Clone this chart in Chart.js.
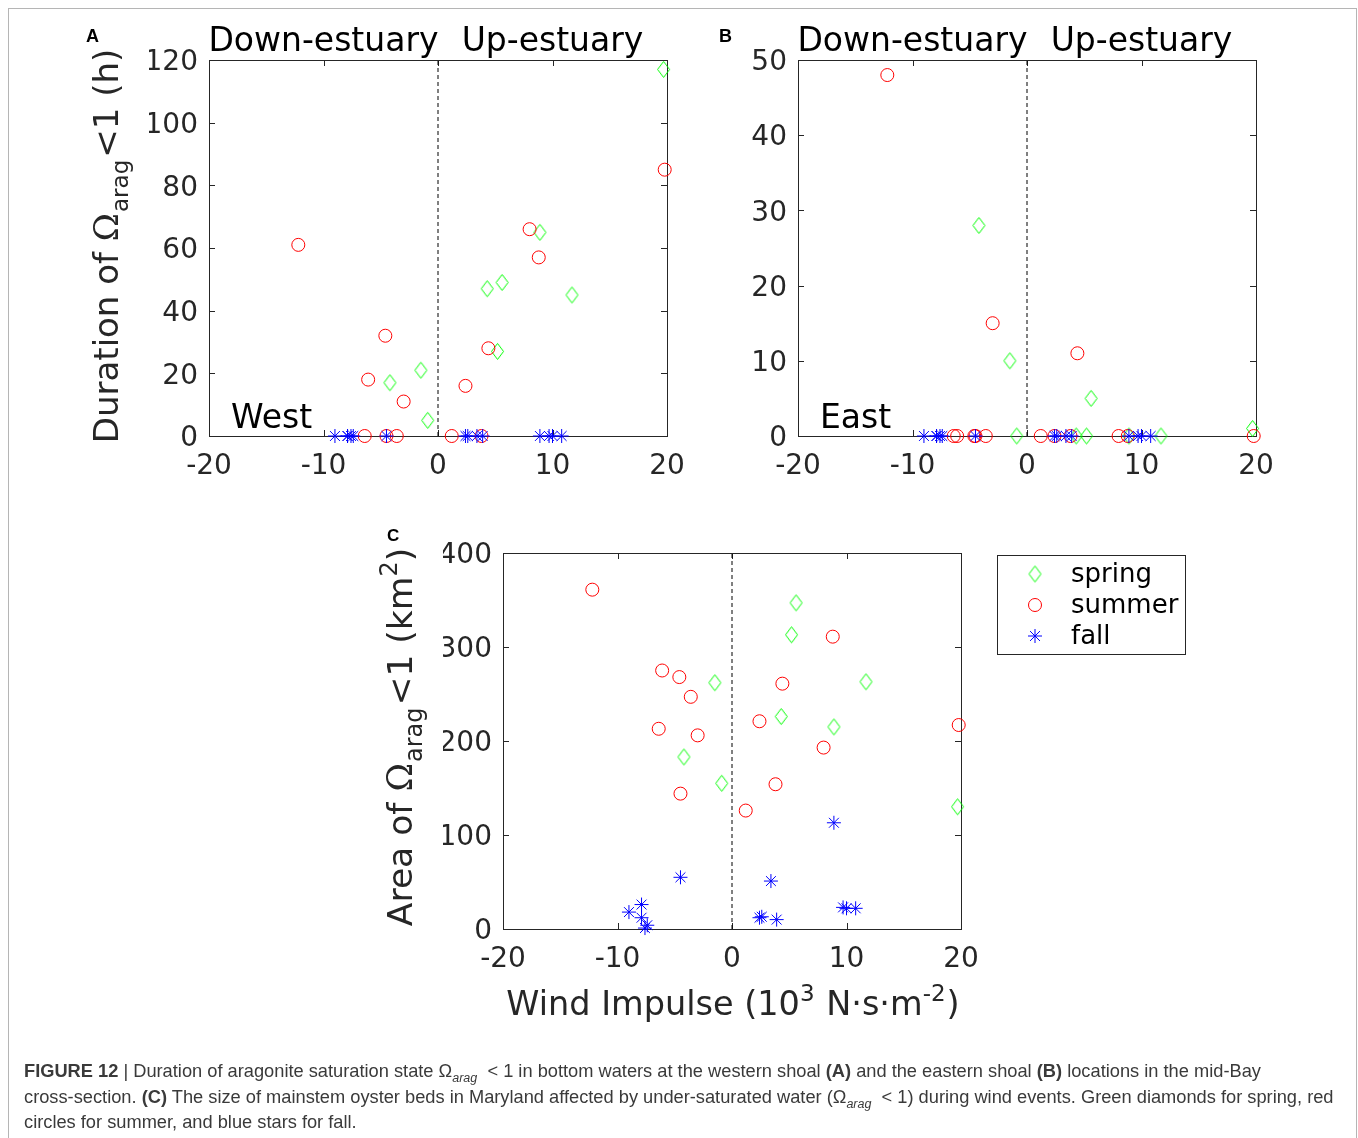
<!DOCTYPE html>
<html>
<head>
    <meta http-equiv="Content-Type" content="text/html; charset=utf-8">
    <title>Figure 12 - aragonite saturation and wind impulse</title>
    <script src="https://cdn.jsdelivr.net/npm/chart.js@4.4.1/dist/chart.umd.min.js"></script>
    <style>
        body { margin:0; background:#fff; }
        #page { position:relative; width:1358px; height:1138px; overflow:hidden; }
        #frame { position:absolute; left:8px; top:8px; width:1347px; height:1160px; border:1px solid #b5b5b5; }
        .cv { position:absolute; left:0; top:0; }
        #cap { position:absolute; left:24px; top:1058px; font-size:18.25px; font-family:'Liberation Sans',sans-serif;
               color:#3a3a3a; line-height:25.5px; white-space:nowrap; }
        #cap sub { font-size:12.5px; line-height:0; }
    </style>
</head>
<body>
<div id="page">
    <div id="frame"></div>
    <canvas id="chartA" class="cv" width="1358" height="1138"></canvas>
    <canvas id="chartB" class="cv" width="1358" height="1138"></canvas>
    <canvas id="chartC" class="cv" width="1358" height="1138"></canvas>
    <div id="cap">
        <b>FIGURE 12</b> | Duration of aragonite saturation state Ω<sub><i>arag</i></sub> &nbsp;&lt; 1 in bottom waters at the western shoal <b>(A)</b> and the eastern shoal <b>(B)</b> locations in the mid-Bay<br>
        cross-section. <b>(C)</b> The size of mainstem oyster beds in Maryland affected by under-saturated water (Ω<sub><i>arag</i></sub> &nbsp;&lt; 1) during wind events. Green diamonds for spring, red<br>
        circles for summer, and blue stars for fall.
    </div>
</div>

<script>
    // wind impulse (10^3 N s m-2) of each event, per season
    var springX = [5.6, 5.2, -1.5, 11.7, 4.3, 8.9, -4.2, -0.9, 19.7];
    var summerX = [-12.2, -6.1, -4.6, -3.6, -6.4, -3.0, -4.5, 1.2, 2.4, 4.4, 3.8, 8.0, 8.8, 19.8];
    var fallX   = [8.9, -4.5, 3.4, -7.9, -9.0, -7.9, -7.4, -7.6, 2.4, 2.6, 3.9, 9.7, 10.0, 10.8];

    // duration (h) of omega_arag < 1, west shoal (A)
    var springWest = [49, 27, 21, 45, 47, 65, 17, 5, 117];
    var summerWest = [61, 18, 32, 0, 0, 11, 0, 0, 16, 28, 0, 66, 57, 85];
    var fallWest   = [0, 0, 0, 0, 0, 0, 0, 0, 0, 0, 0, 0, 0, 0];

    // duration (h), east shoal (B)
    var springEast = [5, 0, 10, 0, 0, 0, 28, 0, 1];
    var summerEast = [48, 0, 0, 0, 0, 15, 0, 0, 0, 11, 0, 0, 0, 0];
    var fallEast   = [0, 0, 0, 0, 0, 0, 0, 0, 0, 0, 0, 0, 0, 0];

    // affected oyster bed area (km2) (C)
    var springArea = [347, 313, 262, 263, 226, 215, 183, 155, 130];
    var summerArea = [361, 275, 268, 247, 213, 206, 144, 126, 221, 261, 154, 193, 311, 217];
    var fallArea   = [113, 55, 51, 26, 18, 12, 4, 1, 12, 13, 10, 23, 22, 22];

    var xTicks = [-20, -10, 0, 10, 20];
    var seasons = ['spring', 'summer', 'fall'];

    var GREEN = '#00ff00', RED = '#ff0000', BLUE = '#0000ff', AX = '#262626';
    var FONT = "'DejaVu Sans'";

    // tall diamond like the matlab marker
    var diamond = document.createElement('canvas');
    diamond.width = 15; diamond.height = 19;
    (function() {
        var c = diamond.getContext('2d');
        c.strokeStyle = GREEN; c.lineWidth = 1;
        c.beginPath();
        c.moveTo(7.5, 1.5); c.lineTo(13.5, 9.5); c.lineTo(7.5, 17.5); c.lineTo(1.5, 9.5);
        c.closePath(); c.stroke();
    })();

    function pts(xs, ys) {
        return xs.map(function(v, i) { return {x: v, y: ys[i]}; });
    }

    // parts: [text, font, baseline shift, extra gap after]
    function drawRich(ctx, parts, x, y, angle, align) {
        ctx.save();
        ctx.translate(x, y);
        ctx.rotate(angle);
        var total = 0;
        parts.forEach(function(p) { ctx.font = p[1]; total += ctx.measureText(p[0]).width + (p[3] || 0); });
        var cx = align === 'center' ? -total / 2 : 0;
        ctx.textAlign = 'left';
        ctx.textBaseline = 'alphabetic';
        ctx.fillStyle = AX;
        parts.forEach(function(p) {
            ctx.font = p[1];
            ctx.fillText(p[0], cx, p[2] || 0);
            cx += ctx.measureText(p[0]).width + (p[3] || 0);
        });
        ctx.restore();
    }

    // box + inward ticks on all four sides
    var boxPlugin = {
        id: 'box',
        beforeDatasetsDraw: function(chart) {
            var ctx = chart.ctx, a = chart.chartArea;
            var xs = chart.scales.x, ys = chart.scales.y;
            ctx.save();
            ctx.strokeStyle = AX;
            ctx.lineWidth = 1;
            ctx.strokeRect(Math.round(a.left) + 0.5, Math.round(a.top) + 0.5,
                Math.round(a.right - a.left), Math.round(a.bottom - a.top));
            ctx.beginPath();
            xs.ticks.forEach(function(t) {
                var px = Math.round(xs.getPixelForValue(t.value)) + 0.5;
                ctx.moveTo(px, a.bottom); ctx.lineTo(px, a.bottom - 6);
                ctx.moveTo(px, a.top); ctx.lineTo(px, a.top + 6);
            });
            ys.ticks.forEach(function(t) {
                var py = Math.round(ys.getPixelForValue(t.value)) + 0.5;
                ctx.moveTo(a.left, py); ctx.lineTo(a.left + 6, py);
                ctx.moveTo(a.right, py); ctx.lineTo(a.right - 6, py);
            });
            ctx.stroke();
            ctx.restore();
        }
    };

    var textPlugin = {
        id: 'texts',
        afterDraw: function(chart) {
            var o = chart.options.plugins.texts;
            var ctx = chart.ctx, a = chart.chartArea;
            var xs = chart.scales.x;
            ctx.save();
            ctx.fillStyle = '#000';
            ctx.textBaseline = 'alphabetic';
            ctx.textAlign = 'left';
            ctx.font = 'bold ' + (o.letter[3] || 18) + 'px "Liberation Sans"';
            ctx.fillText(o.letter[0], o.letter[1], o.letter[2]);
            ctx.font = '33px ' + FONT;
            if (o.halves) {
                var mid = xs.getPixelForValue(0);
                ctx.textAlign = 'center';
                ctx.fillText('Down-estuary', (a.left + mid) / 2, 51);
                ctx.fillText('Up-estuary', (mid + a.right) / 2, 51);
            }
            if (o.site) {
                ctx.textAlign = 'left';
                ctx.fillText(o.site, a.left + 22, 428);
            }
            ctx.restore();
            if (o.yTitle) drawRich(ctx, o.yTitle, o.yTitlePos[0], o.yTitlePos[1], -Math.PI / 2, 'center');
            if (o.xTitle) drawRich(ctx, o.xTitle, o.xTitlePos[0], o.xTitlePos[1], 0, 'center');
            if (o.legend) {
                var L = o.legend;
                ctx.save();
                ctx.fillStyle = '#fff';
                ctx.fillRect(L[0], L[1], L[2], L[3]);
                ctx.strokeStyle = AX;
                ctx.lineWidth = 1;
                ctx.strokeRect(L[0] + 0.5, L[1] + 0.5, L[2], L[3]);
                var mx = L[0] + 38, ty = [574, 605, 636];
                ctx.drawImage(diamond, mx - 7.5, ty[0] - 9.5);
                ctx.strokeStyle = RED;
                ctx.beginPath(); ctx.arc(mx, ty[1], 6.5, 0, Math.PI * 2); ctx.stroke();
                ctx.strokeStyle = BLUE;
                ctx.beginPath();
                for (var k = 0; k < 4; k++) {
                    var ang = k * Math.PI / 4;
                    ctx.moveTo(mx - 7 * Math.cos(ang), ty[2] - 7 * Math.sin(ang));
                    ctx.lineTo(mx + 7 * Math.cos(ang), ty[2] + 7 * Math.sin(ang));
                }
                ctx.stroke();
                ctx.fillStyle = '#000';
                ctx.font = '26px ' + FONT;
                ctx.textBaseline = 'middle';
                seasons.forEach(function(s, i) { ctx.fillText(s, L[0] + 74, ty[i] + 1); });
                ctx.restore();
            }
        }
    };

    function makeChart(id, springY, summerY, fallY, yMax, yStep, pad, texts) {
        var ctx = document.getElementById(id);
        return new Chart(ctx, {
            type: 'scatter',
            data: {
                datasets: [{
                    label: 'fall',
                    data: pts(fallX, fallY),
                    pointStyle: 'star',
                    pointRadius: 7,
                    borderColor: BLUE,
                    borderWidth: 1,
                    clip: false,
                    order: 1
                }, {
                    label: 'summer',
                    data: pts(summerX, summerY),
                    pointStyle: 'circle',
                    pointRadius: 6.5,
                    borderColor: RED,
                    backgroundColor: 'rgba(0,0,0,0)',
                    borderWidth: 1,
                    clip: false,
                    order: 2
                }, {
                    label: 'spring',
                    data: pts(springX, springY),
                    pointStyle: diamond,
                    clip: false,
                    order: 3
                }, {
                    type: 'line',
                    label: 'zero',
                    data: [{x: 0, y: 0}, {x: 0, y: yMax}],
                    borderColor: '#000',
                    borderWidth: 1,
                    borderDash: [4, 3],
                    pointRadius: 0,
                    order: 4
                }]
            },
            options: {
                animation: false,
                responsive: false,
                devicePixelRatio: 1,
                events: [],
                layout: { padding: pad },
                scales: {
                    x: {
                        type: 'linear', min: -20, max: 20,
                        afterBuildTicks: function(s) { s.ticks = xTicks.map(function(v) { return {value: v}; }); },
                        afterFit: function(s) { s.height = 50; },
                        grid: { display: false, drawTicks: false },
                        border: { display: false },
                        ticks: { color: AX, padding: 14, font: { family: 'DejaVu Sans', size: 28 } }
                    },
                    y: {
                        type: 'linear', min: 0, max: yMax,
                        ticks: { stepSize: yStep, color: AX, padding: 11, labelOffset: 3, font: { family: 'DejaVu Sans', size: 28 } },
                        afterFit: function(s) { s.width = 60; },
                        grid: { display: false, drawTicks: false },
                        border: { display: false }
                    }
                },
                plugins: {
                    legend: { display: false },
                    tooltip: { enabled: false },
                    texts: texts
                }
            },
            plugins: [boxPlugin, textPlugin]
        });
    }

    var bigA = '34px ' + FONT, omegaA = '34px "DejaVu Serif"', smallA = '23px ' + FONT;
    var bigC = '34.5px ' + FONT, omegaC = '34.5px "DejaVu Serif"', smallC = '24px ' + FONT;
    var bigX = '33.5px ' + FONT, smallX = '23px ' + FONT;

    makeChart('chartA', springWest, summerWest, fallWest, 120, 20,
        {left: 149, right: 691, top: 60, bottom: 652},
        {
            letter: ['A', 86, 42], halves: true, site: 'West',
            yTitle: [['Duration of ', bigA], ['Ω', omegaA, 0, 1], ['arag', smallA, 10, 2], ['<1 (h)', bigA]],
            yTitlePos: [118, 246]
        });

    makeChart('chartB', springEast, summerEast, fallEast, 50, 10,
        {left: 738, right: 102, top: 60, bottom: 652},
        { letter: ['B', 719, 42], halves: true, site: 'East' });

    makeChart('chartC', springArea, summerArea, fallArea, 400, 100,
        {left: 443, right: 397, top: 553, bottom: 159},
        {
            letter: ['C', 387, 541, 17],
            yTitle: [['Area of ', bigC], ['Ω', omegaC, 0, 1], ['arag', smallC, 10, 2], ['<1 (km', bigC], ['2', smallC, -15, 0], [')', bigC]],
            yTitlePos: [412, 737],
            xTitle: [['Wind Impulse (10', bigX], ['3', smallX, -14, 1], [' N·s·m', bigX], ['-2', smallX, -14, 1], [')', bigX]],
            xTitlePos: [733, 1015],
            legend: [997, 555, 188, 99]
        });
</script>
</body>
</html>
